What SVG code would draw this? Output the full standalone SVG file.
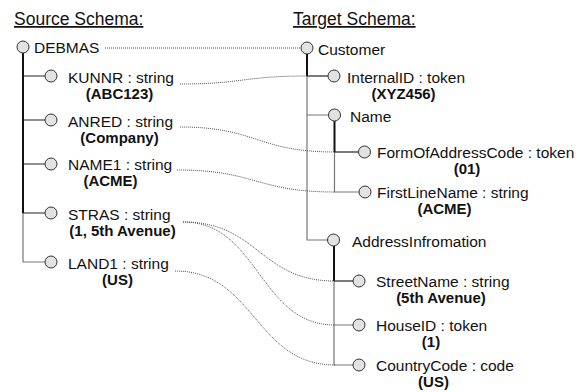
<svg xmlns="http://www.w3.org/2000/svg" width="582" height="392" viewBox="0 0 582 392">
<style>
text{font-family:"Liberation Sans",Arial,sans-serif;fill:#111}
.h{font-size:17.5px;text-decoration:underline}
.l{font-size:15.5px}
.v{font-size:15px;font-weight:bold;text-anchor:middle}
.node{fill:#e2e2e2;stroke:#333;stroke-width:1}
.dk{stroke:#111;stroke-width:2;fill:none}
.dk1{stroke:#222;stroke-width:1.2;fill:none}
.gr{stroke:#777;stroke-width:1.2;fill:none}
.conn path{fill:none;stroke:#555;stroke-width:1;stroke-dasharray:1 1}
</style>
<rect width="582" height="392" fill="#fff"/>
<text class="h" x="14" y="25">Source Schema:</text>
<text class="h" x="293" y="25">Target Schema:</text>

<g id="source-tree-lines">
<path class="dk" d="M23,53 V213"/>
<path class="gr" d="M23,213 V262 H45"/>
<path class="dk1" d="M23,76 H45 M23,120 H45 M23,164 H45 M23,213 H45"/>
</g>
<g id="target-tree-lines">
<path class="dk" d="M307,54 V76"/>
<path class="gr" d="M307,76 V240 H327.5 M307,115 H328.5"/>
<path class="dk1" d="M307,76 H328"/>
<path class="dk" d="M334.5,121 V152"/>
<path class="gr" d="M334.5,152 V192 H359"/>
<path class="dk1" d="M334.5,152 H358.5"/>
<path class="dk" d="M334,246 V281"/>
<path class="gr" d="M334,281 V365 H353 M334,325 H353"/>
<path class="dk1" d="M334,281 H353"/>
</g>

<g class="conn" id="connectors">
<path d="M105,48 H301"/>
<path d="M180,84 C243,84 243,76 307,76"/>
<path d="M180,127 C257,127 257,152 335,152"/>
<path d="M177,170 C256,170 256,192 335,192"/>
<path d="M183,222 C259,222 259,281 335,281"/>
<path d="M183,222 C259,222 259,325 335,325"/>
<path d="M175,271 C255,271 255,365 335,365"/>
</g>

<g id="DEBMAS"><circle class="node" cx="23" cy="47" r="6"/><text class="l" x="34" y="53">DEBMAS</text></g>
<g id="KUNNR"><circle class="node" cx="51" cy="76" r="6"/><text class="l" x="68" y="82.5">KUNNR : string</text><text class="v" x="119.5" y="98.5">(ABC123)</text></g>
<g id="ANRED"><circle class="node" cx="51" cy="120" r="6"/><text class="l" x="68" y="126.5">ANRED : string</text><text class="v" x="119.5" y="142.5">(Company)</text></g>
<g id="NAME1"><circle class="node" cx="51" cy="164" r="6"/><text class="l" x="68" y="170">NAME1 : string</text><text class="v" x="110.5" y="186">(ACME)</text></g>
<g id="STRAS"><circle class="node" cx="51" cy="213" r="6"/><text class="l" x="68" y="219.5">STRAS : string</text><text class="v" x="122.5" y="235.5">(1, 5th Avenue)</text></g>
<g id="LAND1"><circle class="node" cx="51" cy="262" r="6"/><text class="l" x="68" y="268.5">LAND1 : string</text><text class="v" x="117.5" y="284.5">(US)</text></g>

<g id="Customer"><circle class="node" cx="307" cy="48" r="6"/><text class="l" x="318" y="54.5">Customer</text></g>
<g id="InternalID"><circle class="node" cx="334" cy="76" r="6"/><text class="l" x="347" y="82.5">InternalID : token</text><text class="v" x="403.5" y="98.5">(XYZ456)</text></g>
<g id="Name"><circle class="node" cx="334.5" cy="115" r="6"/><text class="l" x="350" y="121.5">Name</text></g>
<g id="FormOfAddressCode"><circle class="node" cx="364.5" cy="152" r="6"/><text class="l" x="377" y="158">FormOfAddressCode : token</text><text class="v" x="467" y="174">(01)</text></g>
<g id="FirstLineName"><circle class="node" cx="365" cy="192" r="6"/><text class="l" x="377" y="198">FirstLineName : string</text><text class="v" x="444.5" y="214">(ACME)</text></g>
<g id="AddressInfromation"><circle class="node" cx="333.5" cy="240" r="6"/><text class="l" x="352" y="246.5">AddressInfromation</text></g>
<g id="StreetName"><circle class="node" cx="359" cy="281" r="6"/><text class="l" x="376" y="287">StreetName : string</text><text class="v" x="441" y="303">(5th Avenue)</text></g>
<g id="HouseID"><circle class="node" cx="359" cy="325" r="6"/><text class="l" x="376" y="331">HouseID : token</text><text class="v" x="431" y="347">(1)</text></g>
<g id="CountryCode"><circle class="node" cx="359" cy="365" r="6"/><text class="l" x="376" y="371">CountryCode : code</text><text class="v" x="433.5" y="387">(US)</text></g>
</svg>
